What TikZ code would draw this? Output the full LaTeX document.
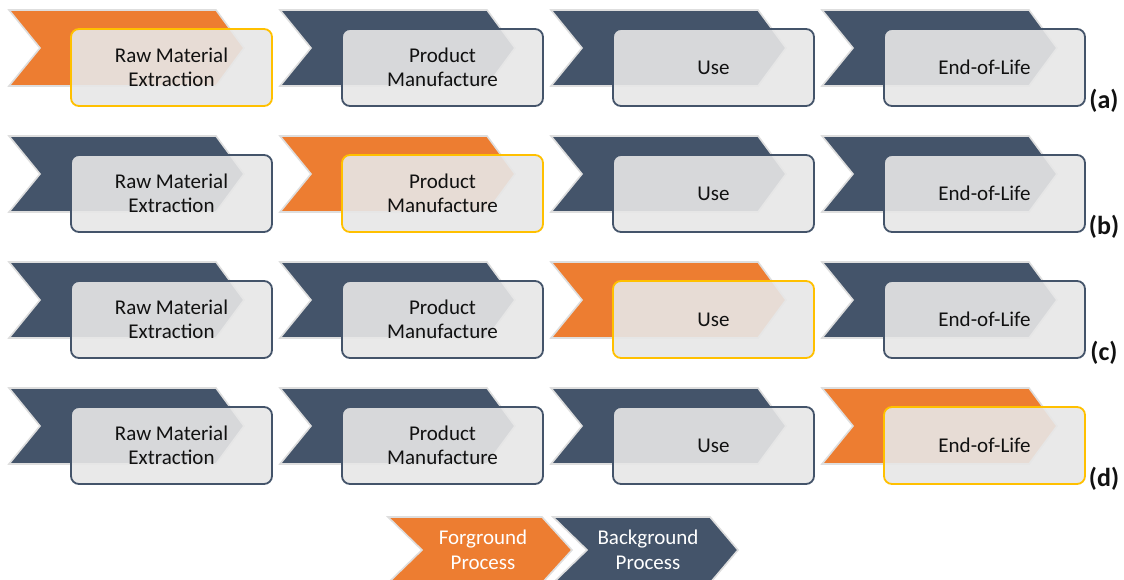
\documentclass[tikz,border=0pt]{standalone}
\usepackage{fontspec}
\setmainfont{Carlito}
\definecolor{fgorange}{HTML}{ED7D31}
\definecolor{bgslate}{HTML}{44546A}
\definecolor{hiyellow}{HTML}{FFC000}
\definecolor{boxgray}{HTML}{E7E7E7}
\definecolor{rimgray}{HTML}{DEDEDE}
\definecolor{inktext}{HTML}{111111}
\tikzset{
  chevfill/.style={fill=#1, draw=rimgray, line width=1.6pt, line join=miter},
  stagebox/.style={draw=bgslate, line width=1.8pt, rounded corners=8pt, fill=boxgray, fill opacity=0.9, text opacity=1,
    minimum width=201pt, minimum height=77pt, align=center, font=\fontsize{21}{24}\selectfont, text=inktext, inner sep=0pt},
  hibox/.style={stagebox, draw=hiyellow},
  rowlabel/.style={font=\fontsize{26}{28}\bfseries\selectfont, text=inktext, inner sep=0pt},
  legtext/.style={font=\fontsize{21}{25}\selectfont, text=white, align=center, inner sep=0pt},
  pics/chev/.style args={#1/#2}{code={
    \path[chevfill=#1] (0,0) -- (207,0) -- (235,38) -- (207,76) -- (0,76) -- (31,38) -- cycle;
  }},
}
\begin{document}
\begin{tikzpicture}[x=1pt,y=-1pt]
\useasboundingbox[fill=white] (0,0) rectangle (1124,580);
% rows
\foreach \r/\hl [count=\ri from 0] in {a/1,b/2,c/3,d/4}{
  \foreach \name/\txt [count=\ci from 1] in {raw/{Raw Material\\Extraction},man/{Product\\Manufacture},use/{Use},eol/{End-of-Life}}{
    \pgfmathsetmacro{\X}{9+271*(\ci-1)}
    \pgfmathsetmacro{\Y}{10+126*\ri}
    \ifnum\ci=\hl
      \pic at (\X,\Y) {chev=fgorange/x};
      \node[hibox] (\name-\r) at (\X+162.5,\Y+57.5) {\txt};
    \else
      \pic at (\X,\Y) {chev=bgslate/x};
      \node[stagebox] (\name-\r) at (\X+162.5,\Y+57.5) {\txt};
    \fi
  }
  \node[rowlabel] (lab-\r) at (1104,{101+126*\ri}) {(\r)};
}
% legend
\path[chevfill=fgorange] (388,517) -- (542,517) -- (572,550) -- (542,583) -- (388,583) -- (422,550) -- cycle;
\path[chevfill=bgslate] (553,517) -- (710,517) -- (738,550) -- (710,583) -- (553,583) -- (587,550) -- cycle;
\node[legtext] (fg) at (483,550) {Forground\\Process};
\node[legtext] (bg) at (648,550) {Background\\Process};
\end{tikzpicture}
\end{document}
